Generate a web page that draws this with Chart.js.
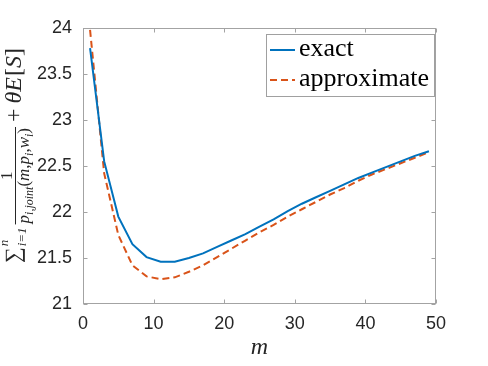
<!DOCTYPE html>
<html>
<head>
<meta charset="utf-8">
<script src="https://cdn.jsdelivr.net/npm/chart.js@4.4.1/dist/chart.umd.min.js"></script>
<style>
html, body { margin: 0; padding: 0; background: #fff; }
#wrap { width: 488px; height: 366px; }
</style>
</head>
<body>
<div id="wrap"><canvas id="chart" width="488" height="366"></canvas></div>
<script>
// values
var mValues = [1, 3, 5, 7, 9, 11, 13, 15, 17, 19, 21, 23, 25, 27, 29, 31, 33, 35, 37, 39, 41, 43, 45, 47, 49];
var exactValues = [23.78, 22.55, 21.95, 21.65, 21.51, 21.46, 21.46, 21.50, 21.55, 21.62, 21.69, 21.76, 21.84,
                   21.92, 22.01, 22.09, 22.16, 22.23, 22.30, 22.37, 22.43, 22.49, 22.55, 22.61, 22.66];
var approxValues = [23.98, 22.42, 21.75, 21.42, 21.30, 21.27, 21.29, 21.35, 21.42, 21.51, 21.60, 21.69, 21.78,
                    21.86, 21.95, 22.03, 22.11, 22.19, 22.26, 22.34, 22.41, 22.47, 22.53, 22.59, 22.65];
var seriesNames = ['exact', 'approximate'];
var xTicks = [0, 10, 20, 30, 40, 50];
var yTicks = [21, 21.5, 22, 22.5, 23, 23.5, 24];

var axisGray = '#a3a3a3';
var textGray = '#262626';

function toPoints(ys) {
  return mValues.map(function(m, i) { return { x: m, y: ys[i] }; });
}

// box round the plot + inward ticks on all four sides (MATLAB look)
var boxPlugin = {
  id: 'boxPlugin',
  afterDatasetsDraw: function(chart) {
    var ctx = chart.ctx, a = chart.chartArea;
    var xs = chart.scales.x, ys = chart.scales.y;
    var L = Math.round(a.left) + 0.5, R = Math.round(a.right) - 0.5;
    var T = Math.round(a.top) + 0.5, B = Math.round(a.bottom) - 0.5;
    ctx.save();
    ctx.strokeStyle = axisGray;
    ctx.lineWidth = 1;
    ctx.strokeRect(L, T, R - L, B - T);
    ctx.beginPath();
    xTicks.forEach(function(v) {
      var px = Math.round(xs.getPixelForValue(v)) + 0.5;
      ctx.moveTo(px, B); ctx.lineTo(px, B - 4);
      ctx.moveTo(px, T); ctx.lineTo(px, T + 4);
    });
    yTicks.forEach(function(v) {
      var py = Math.round(ys.getPixelForValue(v)) + 0.5;
      ctx.moveTo(L, py); ctx.lineTo(L + 4, py);
      ctx.moveTo(R, py); ctx.lineTo(R - 4, py);
    });
    ctx.stroke();
    ctx.restore();
  }
};

// legend with a frame, top right inside the axes
var legendBox = {
  id: 'legendBox',
  afterDraw: function(chart) {
    var ctx = chart.ctx, a = chart.chartArea;
    var w = 168, h = 62;
    var x = Math.round(a.right) - 2 - w, y = Math.round(a.top) + 6;
    ctx.save();
    ctx.fillStyle = '#fff';
    ctx.fillRect(x, y, w, h);
    ctx.strokeStyle = '#a0a0a0';
    ctx.lineWidth = 1;
    ctx.strokeRect(x + 0.5, y + 0.5, w, h);
    chart.data.datasets.forEach(function(ds, i) {
      var cy = y + 16 + i * 30;
      ctx.strokeStyle = ds.borderColor;
      ctx.lineWidth = ds.borderWidth;
      ctx.setLineDash(ds.borderDash || []);
      ctx.beginPath();
      ctx.moveTo(x + 4, cy); ctx.lineTo(x + 29, cy);
      ctx.stroke();
      ctx.setLineDash([]);
      ctx.fillStyle = '#000';
      ctx.font = '26px "Liberation Serif"';
      ctx.textBaseline = 'alphabetic';
      ctx.fillText(ds.label, x + 33, cy + 6);
    });
    ctx.restore();
  }
};

// rotated LaTeX-like y label: sum_{i=1}^n 1/p_{i,joint}(m,p_i,w_i) + thetaE[S]
var yTitle = {
  id: 'yTitle',
  afterDraw: function(chart) {
    var ctx = chart.ctx;
    ctx.save();
    ctx.translate(15, 263);
    ctx.rotate(-Math.PI / 2);
    ctx.fillStyle = textGray;
    ctx.strokeStyle = textGray;
    ctx.textBaseline = 'alphabetic';
    ctx.textAlign = 'left';
    function txt(s, size, italic, u, v) {
      ctx.font = (italic ? 'italic ' : '') + size + 'px "Liberation Serif"';
      if (u !== null) ctx.fillText(s, u, v);
      return ctx.measureText(s).width;
    }
    var u = 0;
    u += txt('\u2211', 22, false, u, 5) + 1;
    var wn = txt('n', 13, true, u, -7);
    var wi = txt('i=1', 13, true, u, 11);
    u += Math.max(wn, wi) + 3;

    // denominator pieces [text, size, italic, dv]
    var den = [['p', 17, true, 0], ['i,joint', 12, true, 4], ['(', 17, false, 0], ['m', 17, true, 0],
               [',', 17, false, 0], ['p', 17, true, 0], ['i', 12, true, 4], [',', 17, false, 0],
               ['w', 17, true, 0], ['i', 12, true, 4], [')', 17, false, 0]];
    var W = 0;
    den.forEach(function(d) { W += txt(d[0], d[1], d[2], null, 0); });
    var u0 = u + 1, dv = 14;
    den.forEach(function(d) { u0 += txt(d[0], d[1], d[2], u0, dv + d[3]); });
    ctx.lineWidth = 1;
    ctx.beginPath();
    ctx.moveTo(u, 0.5); ctx.lineTo(u + W + 2, 0.5);
    ctx.stroke();
    var w1 = txt('1', 17, false, null, 0);
    txt('1', 17, false, u + (W + 2 - w1) / 2, -3);
    u += W + 2 + 5;

    u += txt('+', 24, false, u, 6) + 5;
    u += txt('\u03B8', 24, true, u, 6);
    u += txt('E', 24, true, u, 6) + 1;
    u += txt('[', 24, false, u, 6);
    u += txt('S', 24, true, u, 6);
    txt(']', 24, false, u, 6);
    ctx.restore();
  }
};

var ctx = document.getElementById('chart').getContext('2d');
var chart = new Chart(ctx, {
  type: 'line',
  data: {
    datasets: [
      {
        label: seriesNames[0],
        data: toPoints(exactValues),
        borderColor: '#0072BD',
        borderWidth: 2,
        pointRadius: 0,
        tension: 0,
        fill: false
      },
      {
        label: seriesNames[1],
        data: toPoints(approxValues),
        borderColor: '#D95319',
        borderWidth: 2,
        borderDash: [7, 4],
        pointRadius: 0,
        tension: 0,
        fill: false
      }
    ]
  },
  options: {
    responsive: false,
    animation: false,
    devicePixelRatio: 1,
    layout: { padding: { left: 0, top: 28, right: 52, bottom: 0 } },
    plugins: {
      legend: { display: false },
      tooltip: { enabled: false }
    },
    scales: {
      x: {
        type: 'linear',
        min: 0,
        max: 50,
        afterFit: function(scale) { scale.height = 62; },
        afterBuildTicks: function(scale) { scale.ticks = xTicks.map(function(v) { return { value: v }; }); },
        grid: { display: false, drawTicks: false },
        border: { display: false },
        ticks: {
          padding: 9,
          color: textGray,
          font: { family: '"Liberation Sans"', size: 18 },
          maxRotation: 0,
          callback: function(v) { return String(v); }
        },
        title: {
          display: true,
          text: 'm',
          color: textGray,
          font: { family: '"Liberation Serif"', style: 'italic', size: 24 },
          padding: { top: 0, bottom: 4 }
        }
      },
      y: {
        type: 'linear',
        min: 21,
        max: 24,
        afterFit: function(scale) { scale.width = 83; },
        afterBuildTicks: function(scale) { scale.ticks = yTicks.map(function(v) { return { value: v }; }); },
        grid: { display: false, drawTicks: false },
        border: { display: false },
        ticks: {
          padding: 11,
          color: textGray,
          font: { family: '"Liberation Sans"', size: 18 },
          callback: function(v) { return String(v); }
        }
      }
    }
  },
  plugins: [boxPlugin, legendBox, yTitle]
});
</script>
</body>
</html>
